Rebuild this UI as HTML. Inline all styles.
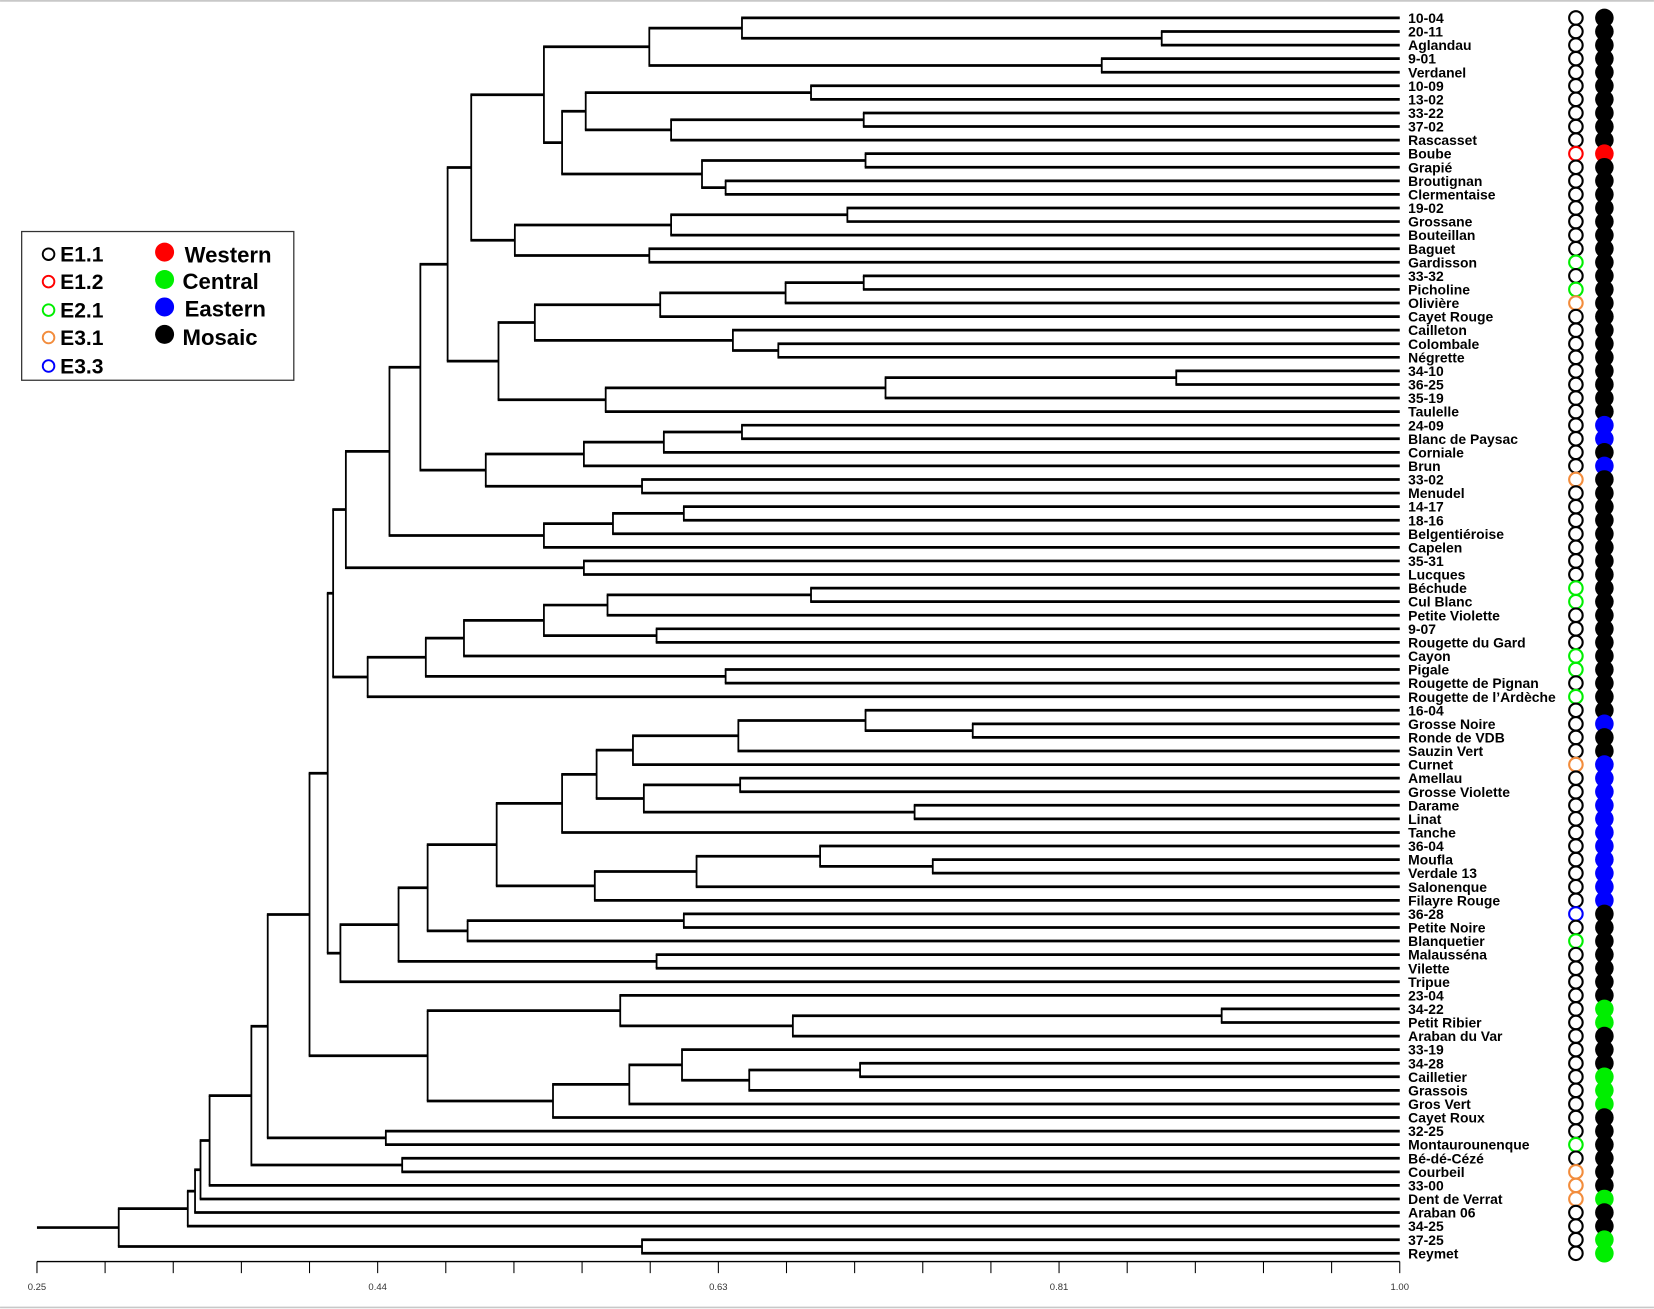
<!DOCTYPE html>
<html><head><meta charset="utf-8"><style>
html,body{margin:0;padding:0;background:#fff;}
svg{display:block;}
text{font-family:"Liberation Sans",sans-serif;}
</style></head><body>
<svg id="chart" width="1654" height="1309" viewBox="0 0 1568 1241" xmlns="http://www.w3.org/2000/svg">
<rect x="0" y="0" width="1568" height="1241" fill="#fff"/>
<line x1="0" y1="0.8" x2="1568" y2="0.8" stroke="#c8c8c8" stroke-width="1.6"/>
<line x1="0" y1="1239.5" x2="1568" y2="1239.5" stroke="#c8c8c8" stroke-width="1.6"/>
<g id="tree"></g>
<g id="axis"></g>
<g id="labels"></g>
<g id="marks"></g>
<g id="legend">
  <rect x="20.5" y="219.5" width="258" height="141" fill="#fff" stroke="#333" stroke-width="1.2"/>
  <g><circle cx="46" cy="241" r="5.5" fill="none" stroke="#000" stroke-width="1.8"/><text x="57" y="248" font-size="20" font-weight="bold">E1.1</text></g>
  <g><circle cx="46" cy="267" r="5.5" fill="none" stroke="#f00" stroke-width="1.8"/><text x="57" y="274" font-size="20" font-weight="bold">E1.2</text></g>
  <g><circle cx="46" cy="294" r="5.5" fill="none" stroke="#0e0" stroke-width="1.8"/><text x="57" y="301" font-size="20" font-weight="bold">E2.1</text></g>
  <g><circle cx="46" cy="320" r="5.5" fill="none" stroke="#f28c3c" stroke-width="1.8"/><text x="57" y="327" font-size="20" font-weight="bold">E3.1</text></g>
  <g><circle cx="46" cy="347" r="5.5" fill="none" stroke="#00f" stroke-width="1.8"/><text x="57" y="354" font-size="20" font-weight="bold">E3.3</text></g>
  <g><circle cx="156" cy="239" r="9" fill="#f00"/><text x="175" y="249" font-size="21" font-weight="bold">Western</text></g>
  <g><circle cx="156" cy="265" r="9" fill="#0e0"/><text x="173" y="274" font-size="21" font-weight="bold">Central</text></g>
  <g><circle cx="156" cy="291" r="9" fill="#00f"/><text x="175" y="300" font-size="21" font-weight="bold">Eastern</text></g>
  <g><circle cx="156" cy="317" r="9" fill="#000"/><text x="173" y="327" font-size="21" font-weight="bold">Mosaic</text></g>
</g>
</svg>
<script>
var labels = ["10-04","20-11","Aglandau","9-01","Verdanel","10-09","13-02","33-22","37-02","Rascasset","Boube","Grapié","Broutignan","Clermentaise","19-02","Grossane","Bouteillan","Baguet","Gardisson","33-32","Picholine","Olivière","Cayet Rouge","Cailleton","Colombale","Négrette","34-10","36-25","35-19","Taulelle","24-09","Blanc de Paysac","Corniale","Brun","33-02","Menudel","14-17","18-16","Belgentiéroise","Capelen","35-31","Lucques","Béchude","Cul Blanc","Petite Violette","9-07","Rougette du Gard","Cayon","Pigale","Rougette de Pignan","Rougette de l’Ardèche","16-04","Grosse Noire","Ronde de VDB","Sauzin Vert","Curnet","Amellau","Grosse Violette","Darame","Linat","Tanche","36-04","Moufla","Verdale 13","Salonenque","Filayre Rouge","36-28","Petite Noire","Blanquetier","Malausséna","Vilette","Tripue","23-04","34-22","Petit Ribier","Araban du Var","33-19","34-28","Cailletier","Grassois","Gros Vert","Cayet Roux","32-25","Montaurounenque","Bé-dé-Cézé","Courbeil","33-00","Dent de Verrat","Araban 06","34-25","37-25","Reymet"];
// gene pool group (hollow circle): 0=E1.1 1=E1.2 2=E2.1 3=E3.1 4=E3.3
var genePool = [0,0,0,0,0,0,0,0,0,0,1,0,0,0,0,0,0,0,2,0,2,3,0,0,0,0,0,0,0,0,0,0,0,0,3,0,0,0,0,0,0,0,2,2,0,0,0,2,2,0,2,0,0,0,0,3,0,0,0,0,0,0,0,0,0,0,4,0,2,0,0,0,0,0,0,0,0,0,0,0,0,0,0,2,0,3,3,3,0,0,0,0];
// origin (filled circle): 0=Western 1=Central 2=Eastern 3=Mosaic
var origin = [3,3,3,3,3,3,3,3,3,3,0,3,3,3,3,3,3,3,3,3,3,3,3,3,3,3,3,3,3,3,2,2,3,2,3,3,3,3,3,3,3,3,3,3,3,3,3,3,3,3,3,3,2,3,3,2,2,2,2,2,2,2,2,2,2,2,3,3,3,3,3,3,3,1,1,3,3,3,1,1,1,3,3,3,3,3,3,1,3,3,1,1];
var tickValues = [0.25,0.2875,0.325,0.3625,0.4,0.4375,0.475,0.5125,0.55,0.5875,0.625,0.6625,0.7,0.7375,0.775,0.8125,0.85,0.8875,0.925,0.9625,1.0];
var tickLabels = ["0.25","0.44","0.63","0.81","1.00"];
// merge tree: [similarity, left, right]; numbers are leaf indices
var treeTop = [0.420,
  [0.444,
    [0.461,
      [0.476,
        [0.489,
          [0.529,
            [0.587,[0.638,0,[0.869,1,2]],[0.836,3,4]],
            [0.539,
              [0.552,[0.676,5,6],[0.599,[0.705,7,8],9]],
              [0.616,[0.706,10,11],[0.629,12,13]]]],
          [0.513,[0.599,[0.696,14,15],16],[0.587,17,18]]],
        [0.504,
          [0.524,[0.593,[0.662,[0.705,19,20],21],22],[0.633,23,[0.658,24,25]]],
          [0.563,[0.717,[0.877,26,27],28],29]]],
      [0.497,[0.551,[0.595,[0.638,30,31],32],33],[0.583,34,35]]],
    [0.529,[0.567,[0.606,36,37],38],39]],
  [0.551,40,41]];
var treeQ = [0.432,[0.464,[0.485,[0.529,[0.564,[0.676,42,43],44],[0.591,45,46]],47],[0.629,48,49]],50];
var treeP = [0.417,
  [0.449,
    [0.465,
      [0.503,
        [0.539,[0.558,[0.578,[0.636,[0.706,51,[0.765,52,53]],54],55],[0.584,[0.637,56,57],[0.733,58,59]]],60],
        [0.557,[0.613,[0.681,61,[0.743,62,63]],64],65]],
      [0.487,[0.606,66,67],68]],
    [0.591,69,70]],
  71];
var treeKL = [0.465,[0.571,72,[0.666,[0.902,73,74],75]],[0.534,[0.576,[0.605,76,[0.642,[0.703,77,78],79]],80],81]];
var tree = [0.295,
  [0.333,[0.337,[0.340,[0.345,[0.368,[0.377,[0.400,[0.410,[0.413,treeTop,treeQ],treeP],treeKL],[0.442,82,83]],[0.451,84,85]],86],87],88],89],
  [0.583,90,91]];

var NS = "http://www.w3.org/2000/svg";
var X0 = 35, X1 = 1327, Y0 = 17, DY = 12.87;
function xs(v){ return X0 + (v - 0.25) / 0.75 * (X1 - X0); }
function ys(i){ return Y0 + i * DY; }
function mk(tag, attrs, parent){ var e = document.createElementNS(NS, tag); for (var k in attrs) e.setAttribute(k, attrs[k]); parent.appendChild(e); return e; }

var gT = document.getElementById("tree");
function draw(node){
  if (typeof node === "number") return {x: xs(1.0), y: ys(node)};
  var a = draw(node[1]), b = draw(node[2]);
  var x = xs(node[0]), y = (a.y + b.y) / 2;
  var v = mk("line", {x1:x, y1:a.y, x2:x, y2:b.y, stroke:"#000", "stroke-width":1.7}, gT);
  
  
  [a, b].forEach(function(c){
    var h = mk("line", {x1:x - 0.8, y1:c.y, x2:c.x, y2:c.y, stroke:"#000", "stroke-width":2.6}, gT);
    
    
  });
  return {x: x, y: y};
}
var r = draw(tree);
var stub = mk("line", {x1:xs(0.25), y1:r.y, x2:r.x, y2:r.y, stroke:"#000", "stroke-width":2.6}, gT);



var gA = document.getElementById("axis");
var ax = mk("line", {x1:xs(0.25), y1:1196, x2:xs(1.0), y2:1196, stroke:"#000", "stroke-width":1.3}, gA);


tickValues.forEach(function(t, i){
  var tk = mk("line", {x1:xs(t), y1:1196, x2:xs(t), y2:1207, stroke:"#000", "stroke-width":1}, gA);
  
  
  if (i % 5 === 0) {
    var tl = mk("text", {x:xs(t), y:1223, "font-size":9, "text-anchor":"middle", fill:"#333"}, gA);
    tl.textContent = tickLabels[i / 5];
    
    
  }
});

var gL = document.getElementById("labels"), gM = document.getElementById("marks");
var poolColors = ["#000","#f00","#0e0","#f28c3c","#00f"];
var originColors = ["#f00","#0e0","#00f","#000"];
labels.forEach(function(lb, i){
  var t = mk("text", {x:1335, y:ys(i) + 4.8, "font-size":13.2, "font-weight":"bold"}, gL);
  t.textContent = lb;
  
  
});
labels.forEach(function(lb, i){
  var f = mk("circle", {cx:1521, cy:ys(i), r:8.8, fill:originColors[origin[i]]}, gM);
  
  
});
labels.forEach(function(lb, i){
  var c = mk("circle", {cx:1494, cy:ys(i), r:6.4, fill:"#fff", stroke:poolColors[genePool[i]], "stroke-width":2}, gM);
  
  
});
</script>
</body></html>
